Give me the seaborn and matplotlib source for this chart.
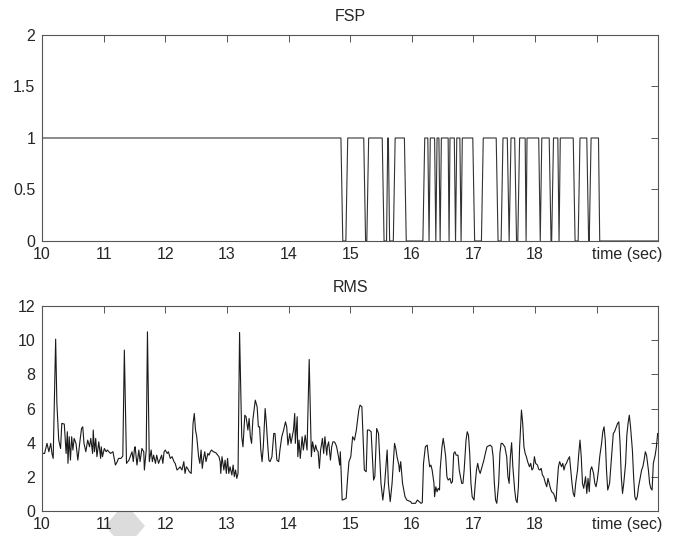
import numpy as np
import pandas as pd
import matplotlib
matplotlib.use("Agg")
import matplotlib.pyplot as plt
from matplotlib.patches import Polygon
import seaborn as sns

# ---------------- data ----------------
fsp_time = [10.00, 14.85, 14.88, 14.93, 14.96, 15.22, 15.25, 15.27, 15.30, 15.52, 15.55,
            15.59, 15.61, 15.62, 15.64, 15.70, 15.73, 15.88, 15.91, 16.18, 16.21, 16.26,
            16.28, 16.30, 16.37, 16.39, 16.41, 16.44, 16.46, 16.48, 16.59, 16.605, 16.62,
            16.69, 16.71, 16.73, 16.78, 16.80, 16.82, 16.99, 17.02, 17.13, 17.16, 17.37,
            17.40, 17.45, 17.48, 17.55, 17.58, 17.61, 17.67, 17.70, 17.72, 17.75, 17.84,
            17.855, 17.87, 18.06, 18.085, 18.11, 18.23, 18.26, 18.27, 18.30, 18.37, 18.39,
            18.41, 18.62, 18.65, 18.70, 18.73, 18.84, 18.87, 18.88, 18.91, 19.03, 19.05,
            20.00]
fsp_value = [1, 1, 0, 0, 1, 1, 0, 0, 1, 1, 0,
             0, 1, 1, 0, 0, 1, 1, 0, 0, 1, 1,
             0, 1, 1, 0, 1, 1, 0, 1, 1, 0, 1,
             1, 0, 1, 1, 0, 1, 1, 0, 0, 1, 1,
             0, 0, 1, 1, 0, 1, 1, 0, 0, 1, 1,
             0, 1, 1, 0, 1, 1, 0, 0, 1, 1, 0,
             1, 1, 0, 0, 1, 1, 0, 0, 1, 1, 0,
             0]

rms_time = [
    10.00, 10.04, 10.08, 10.11, 10.14, 10.16, 10.18, 10.22, 10.24, 10.27, 10.30, 10.32,
    10.36, 10.38, 10.39, 10.41, 10.42, 10.44, 10.46, 10.48, 10.50, 10.52, 10.55, 10.58,
    10.61, 10.64, 10.66, 10.68, 10.71, 10.74, 10.77, 10.79, 10.82, 10.83, 10.85, 10.87,
    10.89, 10.92, 10.95, 10.96, 10.98, 11.01, 11.04, 11.06, 11.11, 11.15, 11.19, 11.22,
    11.24, 11.28, 11.31, 11.335, 11.37, 11.41, 11.43, 11.46, 11.48, 11.50, 11.51, 11.54,
    11.57, 11.59, 11.62, 11.65, 11.66, 11.69, 11.71, 11.74, 11.77, 11.79, 11.81, 11.84,
    11.86, 11.89, 11.91, 11.94, 11.96, 11.98, 12.00, 12.03, 12.05, 12.08, 12.11, 12.14,
    12.16, 12.19, 12.22, 12.24, 12.27, 12.30, 12.32, 12.34, 12.36, 12.39, 12.42, 12.45,
    12.47, 12.49, 12.51, 12.54, 12.56, 12.58, 12.60, 12.62, 12.64, 12.66, 12.69, 12.71,
    12.73, 12.75, 12.78, 12.82, 12.85, 12.87, 12.89, 12.90, 12.92, 12.95, 12.97, 12.99,
    13.01, 13.03, 13.05, 13.08, 13.10, 13.12, 13.14, 13.16, 13.18, 13.205, 13.24, 13.26,
    13.29, 13.31, 13.34, 13.36, 13.38, 13.40, 13.42, 13.44, 13.46, 13.49, 13.51, 13.53,
    13.55, 13.57, 13.59, 13.62, 13.64, 13.66, 13.68, 13.70, 13.73, 13.76, 13.78, 13.81,
    13.84, 13.86, 13.89, 13.92, 13.95, 13.97, 13.99, 14.02, 14.04, 14.06, 14.08, 14.10,
    14.11, 14.14, 14.15, 14.17, 14.19, 14.22, 14.24, 14.27, 14.30, 14.335, 14.37, 14.39,
    14.42, 14.44, 14.46, 14.48, 14.50, 14.52, 14.55, 14.57, 14.59, 14.62, 14.63, 14.65,
    14.68, 14.70, 14.72, 14.74, 14.76, 14.78, 14.81, 14.83, 14.84, 14.85, 14.87, 14.90,
    14.935, 14.96, 14.98,
    15.01, 15.04, 15.07, 15.10, 15.14, 15.16, 15.19, 15.23, 15.26, 15.28, 15.31, 15.34,
    15.38, 15.40, 15.43, 15.46, 15.50, 15.53, 15.56, 15.60, 15.62, 15.65, 15.68, 15.72,
    15.74, 15.76, 15.79, 15.80, 15.82, 15.85, 15.87, 15.89, 15.92, 15.98, 16.00, 16.06,
    16.09, 16.12, 16.15, 16.17, 16.19, 16.22, 16.25, 16.27, 16.29, 16.31, 16.33, 16.36,
    16.37, 16.39, 16.41, 16.43, 16.45, 16.46, 16.49, 16.51, 16.53, 16.55, 16.57, 16.59,
    16.62, 16.64, 16.66, 16.68, 16.70, 16.72, 16.75, 16.77, 16.79, 16.81, 16.83, 16.85,
    16.88, 16.90, 16.92, 16.94, 16.96, 16.98, 17.01, 17.03, 17.05, 17.07, 17.09, 17.11,
    17.14, 17.17, 17.20, 17.22, 17.27, 17.30, 17.32, 17.34, 17.36, 17.38, 17.41, 17.43,
    17.45, 17.47, 17.49, 17.51, 17.54, 17.56, 17.58, 17.60, 17.62, 17.64, 17.67, 17.69,
    17.71, 17.73, 17.75, 17.78, 17.80, 17.82, 17.84, 17.86, 17.88, 17.91, 17.93, 17.95,
    17.97, 17.99, 18.01, 18.04, 18.06, 18.08, 18.10, 18.12, 18.14, 18.17, 18.19, 18.21,
    18.23, 18.25, 18.27, 18.30, 18.32, 18.34, 18.36, 18.38, 18.40, 18.43, 18.45, 18.47,
    18.49, 18.51, 18.53, 18.56, 18.58, 18.60, 18.62, 18.64, 18.66, 18.69, 18.71, 18.73,
    18.75, 18.77, 18.79, 18.82, 18.84, 18.86, 18.88, 18.90, 18.92, 18.95, 18.97, 18.99,
    19.01, 19.03, 19.05, 19.08, 19.10, 19.12, 19.14, 19.16, 19.18, 19.21, 19.23, 19.25,
    19.27, 19.29, 19.31, 19.34, 19.36, 19.38, 19.40, 19.42, 19.44, 19.47, 19.49, 19.51,
    19.53, 19.55, 19.58, 19.60, 19.62, 19.64, 19.66, 19.68, 19.71, 19.73, 19.75, 19.77,
    19.79, 19.81, 19.84, 19.86, 19.88, 19.90, 19.92, 19.95, 19.97, 19.99, 20.00]

rms_value = [
    3.37, 3.37, 3.96, 3.47, 3.96, 3.37, 3.08, 10.06, 6.30, 4.15, 3.66, 5.13,
    5.09, 3.96, 3.37, 4.64, 2.79, 4.35, 2.98, 4.35, 3.57, 4.25, 3.96, 2.98,
    3.96, 4.83, 4.93, 3.96, 3.47, 4.15, 3.76, 4.25, 3.37, 4.74, 3.47, 4.25,
    3.18, 4.05, 3.08, 3.76, 3.18, 3.66, 3.47, 3.57, 3.37, 3.47, 2.69, 2.89,
    3.08, 3.08, 3.22, 9.42, 2.79, 2.98, 3.18, 3.47, 2.89, 3.66, 3.76, 2.69,
    3.57, 2.89, 3.66, 3.47, 2.40, 3.57, 10.49, 2.89, 3.57, 2.89, 3.27, 2.79,
    3.27, 2.79, 2.98, 3.27, 2.79, 3.47, 3.57, 3.37, 3.47, 3.08, 3.18, 2.89,
    2.79, 2.40, 2.50, 2.59, 2.40, 2.89, 2.20, 2.59, 2.50, 2.30, 2.20, 5.13,
    5.71, 4.74, 4.35, 3.18, 2.79, 3.57, 2.50, 3.08, 3.47, 2.89, 3.37, 3.27,
    3.47, 3.57, 3.47, 3.41, 3.27, 3.18, 2.89, 2.20, 3.18, 2.40, 2.98, 2.20,
    3.08, 2.20, 2.59, 2.11, 2.69, 2.01, 2.40, 1.91, 2.20, 10.45, 4.35, 3.76,
    5.61, 5.52, 4.74, 5.42, 4.35, 3.96, 5.32, 5.91, 6.49, 6.10, 4.93, 4.93,
    3.57, 2.89, 3.76, 6.00, 5.13, 3.96, 2.98, 2.89, 3.18, 4.54, 4.54, 2.98,
    2.89, 3.57, 4.35, 4.74, 5.22, 4.93, 3.86, 4.54, 3.96, 4.35, 4.74, 5.71,
    3.96, 5.52, 3.18, 4.15, 3.08, 4.35, 3.57, 4.44, 3.57, 8.87, 3.18, 4.05,
    3.47, 3.86, 3.57, 3.47, 2.50, 3.57, 4.25, 3.37, 4.35, 3.27, 3.76, 4.05,
    2.98, 3.76, 4.05, 4.05, 3.96, 3.76, 3.18, 2.69, 3.47, 2.59, 0.64, 0.68,
    0.74, 2.01, 2.89,
    3.18, 4.35, 4.15, 4.74, 5.91, 6.20, 6.10, 2.40, 2.30, 4.74, 4.74, 4.64,
    1.81, 2.01, 4.83, 4.54, 1.62, 0.64, 1.62, 3.57, 1.62, 0.55, 1.62, 3.96,
    3.66, 3.18, 2.69, 2.30, 2.89, 1.62, 1.23, 0.84, 0.64, 0.55, 0.45, 0.45,
    0.64, 0.55, 0.45, 0.49, 2.79, 3.76, 3.86, 3.18, 2.59, 2.69, 2.40, 1.62,
    0.84, 1.42, 1.13, 1.33, 1.23, 2.40, 3.76, 4.25, 3.76, 3.18, 2.01, 1.81,
    1.91, 1.62, 1.72, 3.37, 3.47, 3.27, 3.27, 2.40, 2.01, 1.62, 1.62, 2.40,
    4.15, 4.64, 4.44, 3.37, 1.62, 0.84, 0.64, 1.62, 2.40, 2.79, 2.40, 2.20,
    2.59, 2.98, 3.47, 3.76, 3.86, 3.76, 3.18, 1.62, 0.64, 0.45, 1.62, 3.37,
    3.96, 3.96, 3.86, 3.76, 3.18, 2.01, 1.62, 3.18, 4.00, 2.59, 1.23, 0.64,
    0.49, 1.42, 3.76, 5.91, 5.13, 3.76, 3.37, 3.18, 2.89, 2.59, 2.79, 2.40,
    2.50, 3.18, 2.79, 2.69, 2.44, 2.40, 2.50, 2.11, 2.01, 1.62, 1.42, 1.91,
    1.62, 1.33, 1.13, 1.03, 0.84, 0.55, 1.62, 2.59, 2.89, 2.59, 2.79, 2.40,
    2.69, 2.79, 2.98, 3.18, 2.40, 1.62, 1.03, 0.84, 1.62, 2.40, 3.37, 4.15,
    3.18, 1.62, 1.33, 2.01, 1.03, 1.91, 1.13, 2.40, 2.59, 2.20, 1.62, 1.42,
    1.81, 2.40, 3.18, 3.96, 4.64, 4.93, 4.15, 2.40, 1.23, 1.62, 2.59, 3.57,
    4.54, 4.64, 4.83, 5.13, 5.22, 3.96, 2.01, 1.03, 1.62, 2.79, 4.44, 5.13,
    5.61, 4.93, 3.57, 2.01, 0.84, 0.64, 0.84, 1.42, 2.01, 2.40, 2.59, 2.98,
    3.47, 3.27, 2.40, 1.62, 1.33, 1.23, 2.79, 3.27, 3.76, 4.54, 4.54]

major_ticks = [10, 11, 12, 13, 14, 15, 16, 17, 18, 19]
major_labels = ["10", "11", "12", "13", "14", "15", "16", "17", "18", ""]
fsp_yticks = [0, 0.5, 1, 1.5, 2]
fsp_ylabels = ["0", "0.5", "1", "1.5", "2"]
rms_yticks = [0, 2, 4, 6, 8, 10, 12]
time_label = "time (sec)"

fsp_df = pd.DataFrame({"t": fsp_time, "v": fsp_value})
rms_df = pd.DataFrame({"t": rms_time, "v": rms_value})

# ---------------- style ----------------
sns.set_style("white")
plt.rcParams["font.family"] = ["Liberation Sans", "DejaVu Sans"]
plt.rcParams["font.size"] = 11.5

fig = plt.figure(figsize=(6.9, 5.36), dpi=100)
ax1 = fig.add_axes([0.061, 0.5504, 0.893, 0.3843])
ax2 = fig.add_axes([0.061, 0.0466, 0.893, 0.3825])

line_color = "#1a1a1a"
frame_color = "#555555"

sns.lineplot(data=fsp_df, x="t", y="v", ax=ax1, estimator=None, sort=False,
             color="#333333", linewidth=0.8)
sns.lineplot(data=rms_df, x="t", y="v", ax=ax2, estimator=None, sort=False,
             color=line_color, linewidth=0.8)

for ax, yt, yl, ylim, title in [(ax1, fsp_yticks, fsp_ylabels, (0, 2), "FSP"),
                                (ax2, rms_yticks, [str(v) for v in rms_yticks], (0, 12), "RMS")]:
    ax.set_xlim(10, 20)
    ax.set_ylim(*ylim)
    ax.set_xticks(major_ticks)
    ax.set_xticklabels(major_labels)
    ax.set_xticks([19.5], [time_label], minor=True)
    ax.set_yticks(yt)
    ax.set_yticklabels(yl)
    ax.set_xlabel("")
    ax.set_ylabel("")
    ax.set_title(title, fontsize=11.5, pad=10)
    ax.tick_params(axis="x", which="major", direction="in", length=5, width=0.7,
                   color=frame_color, top=True, labelsize=11.5, pad=4)
    ax.tick_params(axis="y", which="major", direction="in", length=5, width=0.7,
                   color=frame_color, right=True, labelsize=11.5, pad=5)
    ax.tick_params(axis="x", which="minor", length=0, labelsize=11.5, pad=4)
    for sp in ax.spines.values():
        sp.set_color(frame_color)
        sp.set_linewidth(0.8)

# faint grey watermark diamond at the bottom-left (present in the scan)
diamond = Polygon([[125 / 690, 1 - 503 / 536], [145 / 690, 1 - 526 / 536],
                   [125 / 690, 1 - 549 / 536], [105 / 690, 1 - 526 / 536]],
                  closed=True, transform=fig.transFigure, facecolor="#dcdcdc",
                  edgecolor="none", zorder=-1)
fig.patches.append(diamond)

fig.savefig("out.png", dpi=100)
